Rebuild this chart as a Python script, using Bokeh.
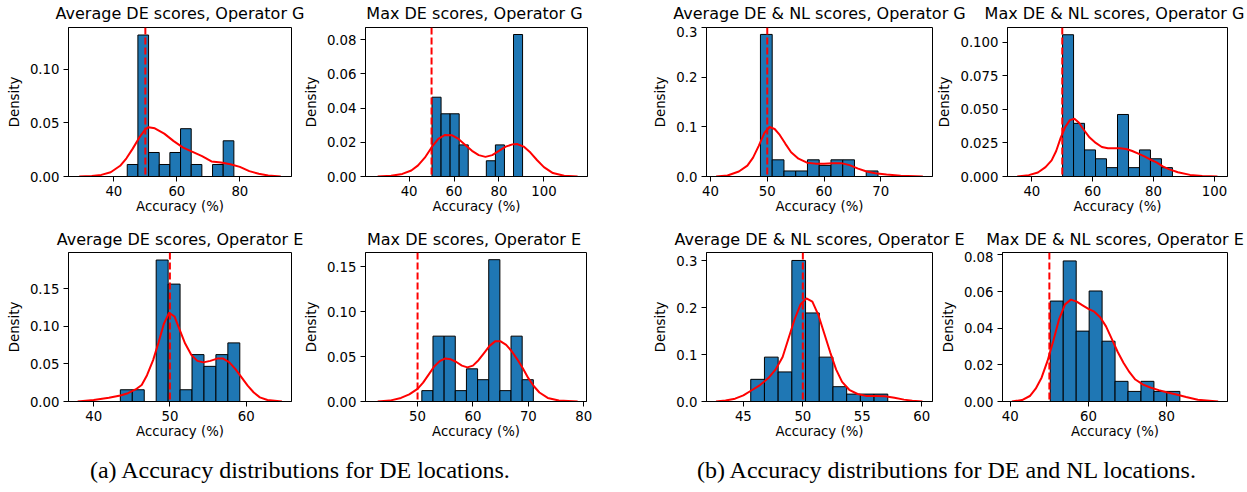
import numpy as np
from bokeh.plotting import figure
from bokeh.layouts import column, row
from bokeh.models import FixedTicker, PrintfTickFormatter, Span, Range1d
from bokeh.embed import file_html
from bokeh.resources import INLINE
from bokeh.core.properties import value

FONT = "DejaVu Sans"
BAR_COLOR = "#1f77b4"

chance_level = 50

titles = [
    "Average DE scores, Operator G", "Max DE scores, Operator G",
    "Average DE & NL scores, Operator G", "Max DE & NL scores, Operator G",
    "Average DE scores, Operator E", "Max DE scores, Operator E",
    "Average DE & NL scores, Operator E", "Max DE & NL scores, Operator E",
]
captions = ["(a) Accuracy distributions for DE locations.",
            "(b) Accuracy distributions for DE and NL locations."]

# ---------------- histogram data (range of 10 bins, densities) ----------------
hist_range_1 = (44.25, 78.1)
density_1 = [0.0112, 0.132, 0.0224, 0.0112, 0.0224, 0.0446, 0.0112, 0.0, 0.0112, 0.0333]
kde_x_1 = [29, 33, 36, 39, 42, 44, 46, 48, 50, 51, 53, 56, 59, 62, 65, 68, 71, 74, 77, 80, 83, 86, 89, 93]
kde_y_1 = [0, 0.0005, 0.0015, 0.004, 0.010, 0.017, 0.026, 0.036, 0.044, 0.046, 0.045, 0.040, 0.033,
           0.027, 0.023, 0.019, 0.014, 0.013, 0.0115, 0.009, 0.005, 0.0025, 0.001, 0]

hist_range_2 = (50.2, 90.5)
density_2 = [0.0464, 0.0367, 0.0367, 0.0185, 0.0, 0.0, 0.0092, 0.0185, 0.0, 0.0831]
kde_x_2 = [26, 32, 37, 41, 44, 47, 50, 53, 56, 59, 62, 65, 68, 71, 74, 77, 80, 83, 86, 88, 91, 94, 97,
           100, 104, 109, 115]
kde_y_2 = [0, 0.0005, 0.0015, 0.0035, 0.0065, 0.011, 0.017, 0.022, 0.0243, 0.0242, 0.022, 0.0185, 0.015,
           0.0125, 0.0115, 0.0125, 0.015, 0.0175, 0.0188, 0.019, 0.0175, 0.014, 0.0095, 0.0055, 0.002,
           0.0004, 0]

hist_range_3 = (48.8, 69.5)
density_3 = [0.287, 0.0337, 0.0112, 0.0112, 0.0337, 0.0224, 0.0337, 0.0337, 0.0, 0.0112]
kde_x_3 = [41, 43, 45, 46.5, 47.5, 48.5, 49.5, 50.4, 51.3, 52.2, 53.2, 54.2, 55.5, 57, 58.5, 60, 61.5,
           63, 64.5, 66, 67.5, 69, 71, 73.5, 77.4]
kde_y_3 = [0, 0.002, 0.010, 0.022, 0.038, 0.062, 0.088, 0.100, 0.096, 0.084, 0.066, 0.049, 0.036, 0.028,
           0.026, 0.026, 0.027, 0.027, 0.023, 0.016, 0.010, 0.0065, 0.004, 0.0015, 0]

hist_range_4 = (50.1, 86.2)
density_4 = [0.1056, 0.0396, 0.0198, 0.0132, 0.0066, 0.0462, 0.0066, 0.0198, 0.0132, 0.0066]
kde_x_4 = [35.2, 39, 42, 44.5, 46.5, 48, 49.5, 51, 52.5, 54, 55.5, 57, 59, 61, 63, 65, 67, 69, 71, 73,
           75, 77, 79, 81, 83, 85, 88, 92, 96, 101]
kde_y_4 = [0, 0.001, 0.003, 0.007, 0.012, 0.019, 0.029, 0.037, 0.042, 0.043, 0.040, 0.035, 0.029, 0.025,
           0.022, 0.021, 0.021, 0.021, 0.0205, 0.019, 0.017, 0.015, 0.0125, 0.0105, 0.0075, 0.0055,
           0.0032, 0.0012, 0.0004, 0]

hist_range_5 = (43.5, 59.17)
density_5 = [0.0156, 0.0156, 0.0, 0.188, 0.156, 0.0156, 0.0623, 0.0467, 0.0623, 0.0779]
kde_x_5 = [37.9, 40, 42, 43.5, 44.5, 45.5, 46.3, 47, 47.8, 48.5, 49.2, 49.9, 50.6, 51.3, 52, 52.8, 53.6,
           54.4, 55.3, 56.2, 57, 57.8, 58.6, 59.4, 60.2, 61, 61.8, 62.8, 64.7]
kde_y_5 = [0, 0.002, 0.005, 0.008, 0.011, 0.016, 0.022, 0.035, 0.055, 0.078, 0.103, 0.118, 0.113, 0.095,
           0.077, 0.062, 0.054, 0.052, 0.054, 0.057, 0.057, 0.052, 0.043, 0.032, 0.021, 0.012, 0.0055,
           0.002, 0]

hist_range_6 = (50.77, 70.9)
density_6 = [0.0121, 0.0728, 0.0728, 0.0121, 0.0364, 0.0243, 0.158, 0.0121, 0.0728, 0.0243]
kde_x_6 = [42.8, 45, 47, 48.5, 50, 51, 52, 53, 54, 55, 56, 57, 58, 59, 60, 61, 62, 63, 64, 65, 66, 67,
           68, 69, 70, 71, 72, 73.5, 75.5, 78.9]
kde_y_6 = [0, 0.001, 0.004, 0.008, 0.014, 0.021, 0.030, 0.039, 0.045, 0.048, 0.047, 0.044, 0.040, 0.038,
           0.040, 0.046, 0.054, 0.062, 0.067, 0.067, 0.063, 0.056, 0.047, 0.037, 0.026, 0.017, 0.010,
           0.004, 0.0012, 0]

hist_range_7 = (45.62, 57.14)
density_7 = [0.0473, 0.0947, 0.0631, 0.301, 0.189, 0.0947, 0.0316, 0.0158, 0.0158, 0.0158]
kde_x_7 = [42.7, 43.5, 44.3, 45, 45.7, 46.4, 47.1, 47.7, 48.3, 48.8, 49.3, 49.8, 50.3, 50.8, 51.3, 51.8,
           52.3, 52.8, 53.3, 53.9, 54.6, 55.3, 56.1, 56.9, 57.7, 58.5, 59.2, 60.05]
kde_y_7 = [0, 0.002, 0.006, 0.013, 0.024, 0.035, 0.050, 0.068, 0.095, 0.135, 0.175, 0.207, 0.220, 0.213,
           0.185, 0.145, 0.105, 0.068, 0.042, 0.025, 0.016, 0.012, 0.012, 0.011, 0.008, 0.004, 0.0015, 0]

hist_range_8 = (50.23, 83.4)
density_8 = [0.0548, 0.0767, 0.0384, 0.0603, 0.0329, 0.011, 0.0055, 0.011, 0.0055, 0.0055]
kde_x_8 = [40.4, 43, 45, 46.5, 48, 49.5, 51, 52.5, 54, 55.5, 57, 58.5, 60, 61.5, 63, 64.5, 66, 67.5, 69,
           70.5, 72, 74, 76, 78, 80, 82.5, 85, 88, 93.2]
kde_y_8 = [0, 0.0008, 0.003, 0.007, 0.013, 0.022, 0.033, 0.045, 0.053, 0.0556, 0.0545, 0.0525, 0.0505,
           0.049, 0.046, 0.041, 0.034, 0.027, 0.021, 0.016, 0.012, 0.0092, 0.0075, 0.0062, 0.005, 0.0038,
           0.0025, 0.001, 0]

# ---------------- axis ticks ----------------
x_ticks = [[40, 60, 80], [40, 60, 80, 100], [40, 50, 60, 70], [40, 60, 80, 100],
           [40, 50, 60], [50, 60, 70, 80], [45, 50, 55, 60], [40, 60, 80]]
y_ticks = [[0, 0.05, 0.10], [0, 0.02, 0.04, 0.06, 0.08], [0, 0.1, 0.2, 0.3],
           [0, 0.025, 0.05, 0.075, 0.10], [0, 0.05, 0.10, 0.15], [0, 0.05, 0.10, 0.15],
           [0, 0.1, 0.2, 0.3], [0, 0.02, 0.04, 0.06, 0.08]]
y_formats = ["%.2f", "%.2f", "%.1f", "%.3f", "%.2f", "%.2f", "%.1f", "%.2f"]

# view ranges
x_ranges = [(25.6, 96.4), (20.6, 119.4), (39.3, 79.1), (32.0, 104.3),
            (36.7, 65.95), (40.6, 80.5), (41.9, 60.9), (38.0, 95.6)]
y_tops = [0.139, 0.0872, 0.301, 0.111, 0.198, 0.166, 0.318, 0.0813]

hist_ranges = [hist_range_1, hist_range_2, hist_range_3, hist_range_4,
               hist_range_5, hist_range_6, hist_range_7, hist_range_8]
densities = [density_1, density_2, density_3, density_4, density_5, density_6, density_7, density_8]
kde_xs = [kde_x_1, kde_x_2, kde_x_3, kde_x_4, kde_x_5, kde_x_6, kde_x_7, kde_x_8]
kde_ys = [kde_y_1, kde_y_2, kde_y_3, kde_y_4, kde_y_5, kde_y_6, kde_y_7, kde_y_8]

# ---------------- layout (pixels) ----------------
TOTAL_W = 1247
PANEL_H = 196          # 1 px top border + 149 px frame + 46 px bottom axis
BORDER_TOP, BORDER_BOTTOM = 1, 46
TITLE_H = [26, 29]     # title strips above the two rows
TITLE_Y = [13.0, 12.2]
CAPTION_H, CAPTION_Y = 44, 22
# (figure width, border left, border right)
layout_cols = [(300, 68, 9), (330, 61, 43), (304, 76, 2), (303, 67, 10),
               (300, 68, 9), (330, 61, 44), (304, 76, 2), (303, 68, 10)]


def frame_centers(cols):
    centers, x = [], 0
    for w, bl, br in cols:
        centers.append(x + bl + (w - bl - br) / 2)
        x += w
    return centers


def make_panel(i):
    w, bl, br = layout_cols[i]
    x0, x1 = x_ranges[i]
    p = figure(width=w, height=PANEL_H, output_backend="svg", toolbar_location=None,
               x_range=Range1d(x0, x1), y_range=Range1d(0, y_tops[i]),
               min_border_left=bl, min_border_right=br,
               min_border_top=BORDER_TOP, min_border_bottom=BORDER_BOTTOM)
    p.grid.visible = False
    p.outline_line_color = "black"
    p.outline_line_width = 1
    p.background_fill_color = "white"

    lo, hi = hist_ranges[i]
    edges = np.linspace(lo, hi, len(densities[i]) + 1)
    p.quad(left=edges[:-1], right=edges[1:], bottom=0, top=densities[i],
           fill_color=BAR_COLOR, line_color="black", line_width=1)
    p.line(kde_xs[i], kde_ys[i], line_color="red", line_width=2)
    p.add_layout(Span(location=chance_level, dimension="height", line_color="red",
                      line_width=2, line_dash="7 3"))

    p.xaxis.ticker = FixedTicker(ticks=x_ticks[i])
    p.yaxis.ticker = FixedTicker(ticks=y_ticks[i])
    p.yaxis.formatter = PrintfTickFormatter(format=y_formats[i])
    p.xaxis.axis_label = "Accuracy (%)"
    p.yaxis.axis_label = "Density"
    for ax in (p.xaxis, p.yaxis):
        ax.axis_label_text_font = FONT
        ax.axis_label_text_font_size = "13.3px"
        ax.axis_label_text_font_style = "normal"
        ax.axis_label_text_color = "black"
        ax.major_label_text_font = FONT
        ax.major_label_text_font_size = "13.3px"
        ax.major_label_text_color = "black"
        ax.major_tick_out = 5
        ax.major_tick_in = 0
        ax.major_tick_line_color = "black"
        ax.minor_tick_line_color = None
        ax.axis_line_color = "black"
        ax.major_label_standoff = 4
    p.xaxis.axis_label_standoff = 0
    p.yaxis.axis_label_standoff = 5
    return p


def make_strip(height, texts, xs, ypos, font, size):
    s = figure(width=TOTAL_W, height=height, output_backend="svg", toolbar_location=None,
               x_range=Range1d(0, TOTAL_W), y_range=Range1d(0, height),
               min_border=0, min_border_left=0, min_border_right=0,
               min_border_top=0, min_border_bottom=0)
    s.axis.visible = False
    s.grid.visible = False
    s.outline_line_color = None
    s.text(x=xs, y=[ypos] * len(texts), text=texts, text_align="center",
           text_baseline="alphabetic", text_font=value(font),
           text_font_size=size, text_color="black")
    return s


panels = [make_panel(i) for i in range(8)]
centers_top = frame_centers(layout_cols[:4])
centers_bot = frame_centers(layout_cols[4:])

title_strip_1 = make_strip(TITLE_H[0], titles[:4], centers_top, TITLE_Y[0], FONT, "16px")
title_strip_2 = make_strip(TITLE_H[1], titles[4:], centers_bot, TITLE_Y[1], FONT, "16px")

caption_centers = [300, 947]
caption_strip = make_strip(CAPTION_H, captions, caption_centers, CAPTION_Y, "Liberation Serif", "24px")

layout = column(title_strip_1, row(*panels[:4]), title_strip_2, row(*panels[4:]), caption_strip)
open("out.html", "w").write(file_html(layout, INLINE))
